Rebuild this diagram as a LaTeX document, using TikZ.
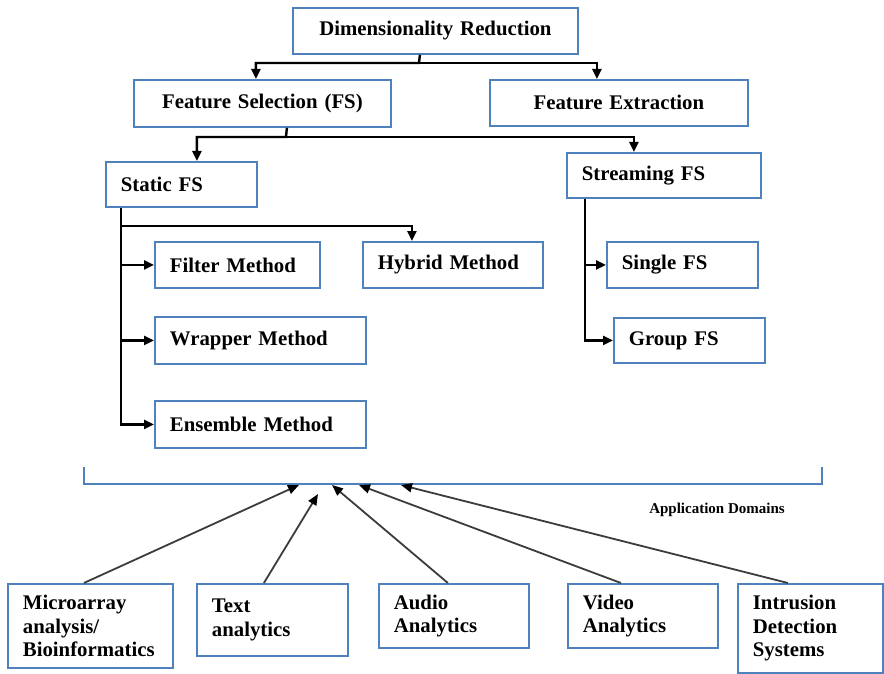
\documentclass[tikz,border=0pt]{standalone}
\usepackage{fontspec}
\setmainfont{Liberation Serif}
\usetikzlibrary{arrows.meta}
\definecolor{boxblue}{RGB}{79,129,189}
\definecolor{linegray}{RGB}{60,60,60}

\begin{document}
\begin{tikzpicture}[x=1pt,y=-1pt]

    \tikzset{boxstyle/.style={draw=boxblue,line width=1.8pt,shape=rectangle,anchor=north west,
        inner xsep=15pt,inner ysep=0pt,align=left,font=\fontsize{20.8}{23.5}\selectfont\bfseries},
        boxsize/.style 2 args={minimum width=#1pt,minimum height=#2pt,text width={#1pt-30pt}}}
    \fill[white] (0,0) rectangle (884,674);
    \useasboundingbox (0,0) rectangle (884,674);

    \node[boxstyle,boxsize={285}{46},align=center] (dr) at (292,7) {Dimensionality Reduction};
    \node[boxstyle,boxsize={257}{47},align=center] (fs) at (133,79) {Feature Selection (FS)};
    \node[boxstyle,boxsize={258}{46},align=center] (fe) at (489,79) {Feature Extraction};
    \node[boxstyle,boxsize={151}{45}] (static) at (105,161) {Static FS};
    \node[boxstyle,boxsize={194}{45}] (streaming) at (566,152) {Streaming FS};
    \node[boxstyle,boxsize={165}{46}] (filter) at (154,241) {Filter Method};
    \node[boxstyle,boxsize={180}{46}] (hybrid) at (362,241) {Hybrid Method};
    \node[boxstyle,boxsize={211}{47}] (wrapper) at (154,316) {Wrapper Method};
    \node[boxstyle,boxsize={211}{47}] (ensemble) at (154,400) {Ensemble Method};
    \node[boxstyle,boxsize={151}{46}] (single) at (606,241) {Single FS};
    \node[boxstyle,boxsize={151}{45}] (group) at (613,317) {Group FS};

    \node[boxstyle,boxsize={165}{84}] (micro) at (7,583) {Microarray\\analysis/\\Bioinformatics};
    \node[boxstyle,boxsize={151}{72}] (text) at (196,583) {Text\\analytics};
    \node[boxstyle,boxsize={150}{64}] (audio) at (378,583) {Audio\\Analytics};
    \node[boxstyle,boxsize={150}{64}] (video) at (567,583) {Video\\Analytics};
    \node[boxstyle,boxsize={145}{89}] (intrusion) at (737,583) {Intrusion\\Detection\\Systems};

    \node[font=\fontsize{15}{17}\selectfont\bfseries] (appdom) at (717,510) {Application Domains};

    \coordinate (j1) at (419,63);
    \coordinate (j2) at (286,137);
    \coordinate (j3) at (121,226);

    \begin{scope}[every path/.style={line width=2.4pt,-{Triangle[length=10pt,width=9pt]}}]
        \draw ([xshift=-15.5pt]dr.south) -- (j1) -| ([xshift=-6.5pt]fs.north);
        \draw (j1) -| ([xshift=-22pt]fe.north);

        \draw ([xshift=24.5pt]fs.south) -- (j2) -| ([xshift=15.5pt]static.north);
        \draw (j2) -| ([xshift=-30pt]streaming.north);

        \draw ([xshift=16pt]static.south west) |- (ensemble.west);
        \draw (j3) |- (filter.west);
        \draw (j3) |- (wrapper.west);
        \draw (j3) -| ([xshift=-41pt]hybrid.north);

        \draw ([xshift=19pt]streaming.south west) |- (single.west);
        \draw ([xshift=19pt]streaming.south west) |- (group.west);
    \end{scope}

    % bracket over the application domains
    \coordinate (bl) at (84,467);
    \coordinate (br) at (822,467);
    \draw[boxblue,line width=2pt] (bl) -- ++(0,17) -| (br);

    \coordinate (t1) at (299,485);
    \coordinate (t2) at (318,494);
    \coordinate (t3) at (332,485);
    \coordinate (t4) at (359,485);
    \coordinate (t5) at (401,485);

    \begin{scope}[every path/.style={line width=1.8pt,draw=linegray,-{Triangle[length=11pt,width=9pt,color=black]}}]
        \draw ([xshift=-6.5pt]micro.north) -- (t1);
        \draw ([xshift=-8.5pt]text.north) -- (t2);
        \draw ([xshift=-6pt]audio.north) -- (t3);
        \draw ([xshift=-22pt]video.north) -- (t4);
        \draw ([xshift=-22.5pt]intrusion.north) -- (t5);
    \end{scope}
\end{tikzpicture}
\end{document}
